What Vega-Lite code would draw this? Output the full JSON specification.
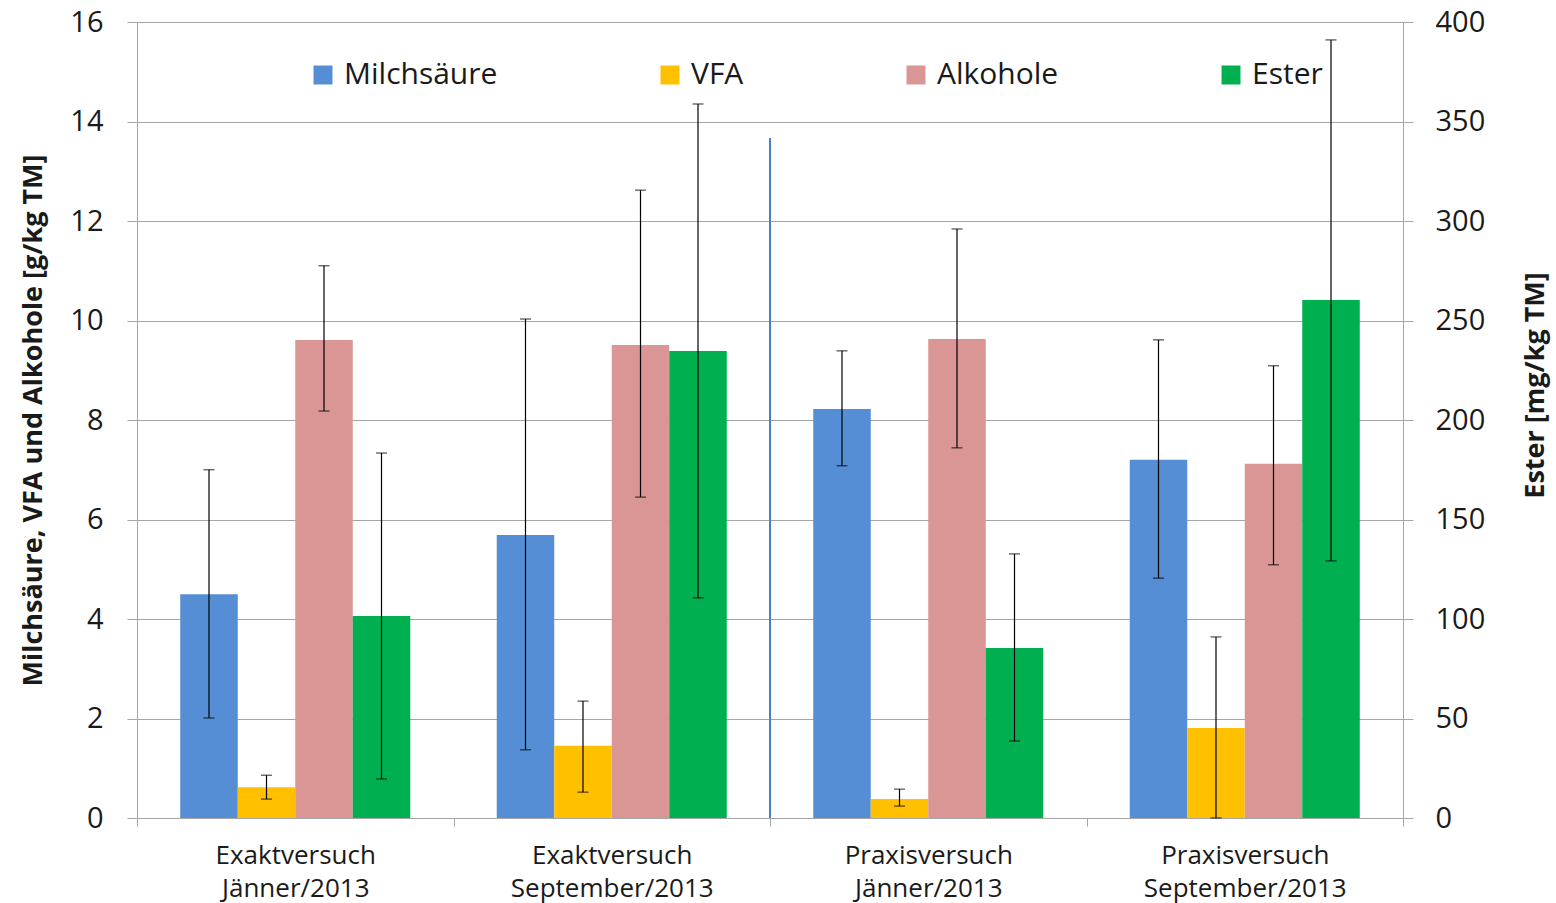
{
  "$schema": "https://vega.github.io/schema/vega-lite/v6.json",
  "width": 1266,
  "height": 796,
  "autosize": {"type": "none"},
  "padding": {"left": 137, "top": 22, "right": 153, "bottom": 85},
  "background": "white",
  "config": {
    "font": "Open Sans",
    "view": {"stroke": null},
    "axis": {
      "domainColor": "#A6A6A6",
      "tickColor": "#A6A6A6",
      "gridColor": "#A6A6A6",
      "labelColor": "#1a1a1a",
      "titleColor": "#1a1a1a",
      "labelFont": "Open Sans",
      "titleFont": "Open Sans"
    }
  },
  "datasets": {
    "links": [
      {"gruppe": "Exaktversuch Jänner/2013", "reihe": "Milchsäure", "wert": 4.50, "lo": 2.01, "hi": 7.00},
      {"gruppe": "Exaktversuch Jänner/2013", "reihe": "VFA", "wert": 0.62, "lo": 0.38, "hi": 0.86},
      {"gruppe": "Exaktversuch Jänner/2013", "reihe": "Alkohole", "wert": 9.61, "lo": 8.18, "hi": 11.10},
      {"gruppe": "Exaktversuch September/2013", "reihe": "Milchsäure", "wert": 5.69, "lo": 1.37, "hi": 10.03},
      {"gruppe": "Exaktversuch September/2013", "reihe": "VFA", "wert": 1.45, "lo": 0.52, "hi": 2.35},
      {"gruppe": "Exaktversuch September/2013", "reihe": "Alkohole", "wert": 9.51, "lo": 6.45, "hi": 12.62},
      {"gruppe": "Praxisversuch Jänner/2013", "reihe": "Milchsäure", "wert": 8.22, "lo": 7.08, "hi": 9.39},
      {"gruppe": "Praxisversuch Jänner/2013", "reihe": "VFA", "wert": 0.38, "lo": 0.24, "hi": 0.58},
      {"gruppe": "Praxisversuch Jänner/2013", "reihe": "Alkohole", "wert": 9.63, "lo": 7.44, "hi": 11.84},
      {"gruppe": "Praxisversuch September/2013", "reihe": "Milchsäure", "wert": 7.20, "lo": 4.82, "hi": 9.61},
      {"gruppe": "Praxisversuch September/2013", "reihe": "VFA", "wert": 1.81, "lo": 0.00, "hi": 3.64},
      {"gruppe": "Praxisversuch September/2013", "reihe": "Alkohole", "wert": 7.12, "lo": 5.09, "hi": 9.09}
    ],
    "ester": [
      {"gruppe": "Exaktversuch Jänner/2013", "reihe": "Ester", "wert": 101.5, "lo": 19.6, "hi": 183.4},
      {"gruppe": "Exaktversuch September/2013", "reihe": "Ester", "wert": 234.7, "lo": 110.6, "hi": 358.8},
      {"gruppe": "Praxisversuch Jänner/2013", "reihe": "Ester", "wert": 85.4, "lo": 38.7, "hi": 132.7},
      {"gruppe": "Praxisversuch September/2013", "reihe": "Ester", "wert": 260.3, "lo": 129.2, "hi": 391.0}
    ],
    "trenner": [
      {"gruppe": "Praxisversuch Jänner/2013", "oben": 13.67}
    ]
  },
  "encoding": {
    "x": {
      "field": "gruppe",
      "type": "nominal",
      "sort": ["Exaktversuch Jänner/2013", "Exaktversuch September/2013", "Praxisversuch Jänner/2013", "Praxisversuch September/2013"],
      "scale": {"paddingInner": 0, "paddingOuter": 0},
      "title": null,
      "axis": {
        "labelAngle": 0,
        "labelExpr": "split(datum.label, ' ')",
        "labelFontSize": 26,
        "labelLineHeight": 33,
        "labelPadding": 16,
        "labelLimit": 400,
        "tickBand": "extent",
        "tickSize": 8,
        "grid": false
      }
    }
  },
  "layer": [
    {
      "layer": [
        {
          "data": {"name": "links"},
          "mark": {"type": "bar"},
          "encoding": {
            "y": {
              "field": "wert",
              "type": "quantitative",
              "scale": {"domain": [0, 16], "nice": false},
              "title": "Milchsäure, VFA und Alkohole [g/kg TM]",
              "axis": {
                "orient": "left",
                "values": [0, 2, 4, 6, 8, 10, 12, 14, 16],
                "labelFontSize": 29,
                "labelPadding": 24,
                "tickSize": 10,
                "grid": true,
                "titleFontSize": 27,
                "titleFontWeight": "bold",
                "titlePadding": 22
              }
            },
            "xOffset": {
              "field": "reihe",
              "type": "nominal",
              "scale": {"domain": ["Milchsäure", "VFA", "Alkohole", "Ester"], "paddingInner": 0, "paddingOuter": 0.752}
            },
            "color": {
              "field": "reihe",
              "type": "nominal",
              "scale": {
                "domain": ["Milchsäure", "VFA", "Alkohole", "Ester"],
                "range": ["#558ED5", "#FFC000", "#D99694", "#00B050"]
              },
              "legend": {
                "title": null,
                "orient": "none",
                "direction": "horizontal",
                "columns": 4,
                "gridAlign": "none",
                "columnPadding": 157,
                "legendX": 171,
                "legendY": 38,
                "symbolType": "square",
                "symbolSize": 360,
                "symbolStrokeWidth": 0,
                "labelFontSize": 30,
                "labelOffset": 6,
                "labelColor": "#1a1a1a",
                "labelFont": "Open Sans"
              }
            }
          }
        },
        {
          "data": {"name": "links"},
          "mark": {"type": "rule", "color": "#000000", "strokeWidth": 1.2},
          "encoding": {
            "y": {"field": "lo", "type": "quantitative", "title": "Milchsäure, VFA und Alkohole [g/kg TM]"},
            "y2": {"field": "hi"},
            "xOffset": {"field": "reihe", "type": "nominal", "scale": {"domain": ["Milchsäure", "VFA", "Alkohole", "Ester"], "paddingInner": 0, "paddingOuter": 0.752}}
          }
        },
        {
          "data": {"name": "links"},
          "mark": {"type": "tick", "color": "#000000", "size": 11, "thickness": 1.2},
          "encoding": {
            "y": {"field": "lo", "type": "quantitative", "title": "Milchsäure, VFA und Alkohole [g/kg TM]"},
            "xOffset": {"field": "reihe", "type": "nominal", "scale": {"domain": ["Milchsäure", "VFA", "Alkohole", "Ester"], "paddingInner": 0, "paddingOuter": 0.752}}
          }
        },
        {
          "data": {"name": "links"},
          "mark": {"type": "tick", "color": "#000000", "size": 11, "thickness": 1.2},
          "encoding": {
            "y": {"field": "hi", "type": "quantitative", "title": "Milchsäure, VFA und Alkohole [g/kg TM]"},
            "xOffset": {"field": "reihe", "type": "nominal", "scale": {"domain": ["Milchsäure", "VFA", "Alkohole", "Ester"], "paddingInner": 0, "paddingOuter": 0.752}}
          }
        },
        {
          "data": {"name": "trenner"},
          "mark": {"type": "rule", "color": "#4A7EC8", "strokeWidth": 2},
          "encoding": {
            "x": {"field": "gruppe", "type": "nominal", "bandPosition": 0},
            "y": {"field": "oben", "type": "quantitative", "title": "Milchsäure, VFA und Alkohole [g/kg TM]"},
            "y2": {"datum": 0}
          }
        }
      ]
    },
    {
      "layer": [
        {
          "data": {"name": "ester"},
          "mark": {"type": "bar"},
          "encoding": {
            "y": {
              "field": "wert",
              "type": "quantitative",
              "scale": {"domain": [0, 400], "nice": false},
              "title": "Ester [mg/kg TM]",
              "axis": {
                "orient": "right",
                "values": [0, 50, 100, 150, 200, 250, 300, 350, 400],
                "labelFontSize": 29,
                "labelPadding": 22,
                "tickSize": 10,
                "grid": false,
                "titleFontSize": 27,
                "titleFontWeight": "bold",
                "titleAngle": -90,
                "titleBaseline": "top",
                "titlePadding": 38,
                "titleY": 363
              }
            },
            "xOffset": {"field": "reihe", "type": "nominal", "scale": {"domain": ["Milchsäure", "VFA", "Alkohole", "Ester"], "paddingInner": 0, "paddingOuter": 0.752}},
            "color": {"field": "reihe", "type": "nominal"}
          }
        },
        {
          "data": {"name": "ester"},
          "mark": {"type": "rule", "color": "#000000", "strokeWidth": 1.2},
          "encoding": {
            "y": {"field": "lo", "type": "quantitative", "title": "Ester [mg/kg TM]"},
            "y2": {"field": "hi"},
            "xOffset": {"field": "reihe", "type": "nominal", "scale": {"domain": ["Milchsäure", "VFA", "Alkohole", "Ester"], "paddingInner": 0, "paddingOuter": 0.752}}
          }
        },
        {
          "data": {"name": "ester"},
          "mark": {"type": "tick", "color": "#000000", "size": 11, "thickness": 1.2},
          "encoding": {
            "y": {"field": "lo", "type": "quantitative", "title": "Ester [mg/kg TM]"},
            "xOffset": {"field": "reihe", "type": "nominal", "scale": {"domain": ["Milchsäure", "VFA", "Alkohole", "Ester"], "paddingInner": 0, "paddingOuter": 0.752}}
          }
        },
        {
          "data": {"name": "ester"},
          "mark": {"type": "tick", "color": "#000000", "size": 11, "thickness": 1.2},
          "encoding": {
            "y": {"field": "hi", "type": "quantitative", "title": "Ester [mg/kg TM]"},
            "xOffset": {"field": "reihe", "type": "nominal", "scale": {"domain": ["Milchsäure", "VFA", "Alkohole", "Ester"], "paddingInner": 0, "paddingOuter": 0.752}}
          }
        }
      ]
    }
  ],
  "resolve": {"scale": {"y": "independent"}}
}
